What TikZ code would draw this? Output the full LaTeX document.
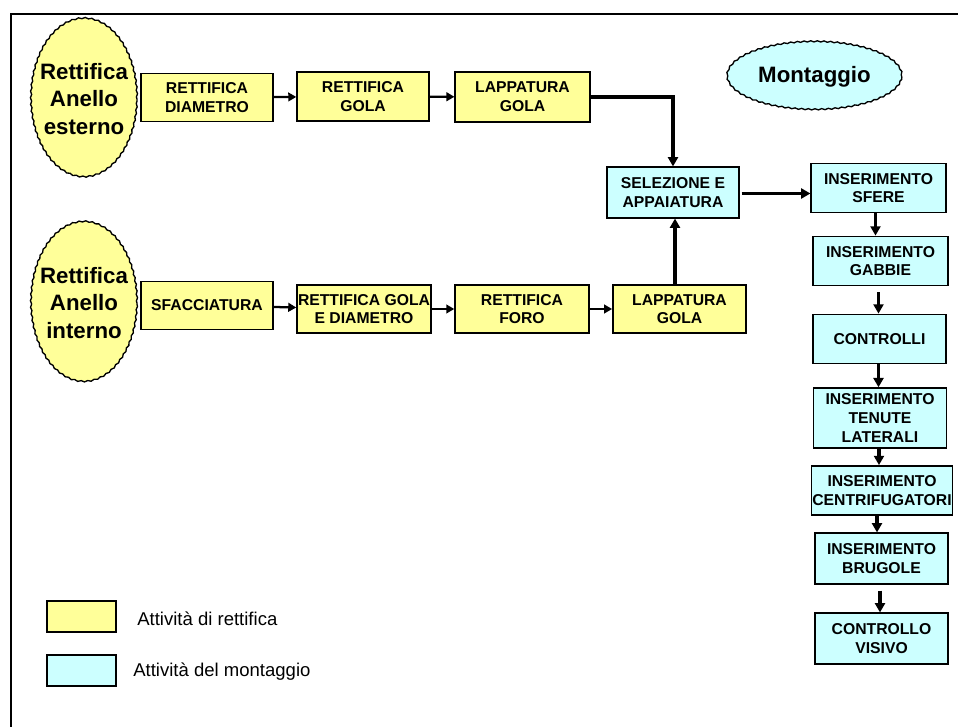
\documentclass[tikz,border=0pt]{standalone}
\usepackage{fontspec}
\setmainfont{Liberation Sans}
\usetikzlibrary{shapes.geometric,arrows.meta,decorations.pathmorphing}
\definecolor{giallo}{HTML}{FFFF99}
\definecolor{azzurro}{HTML}{CCFFFF}
\begin{document}
\begin{tikzpicture}[x=0.75pt,y=-0.75pt,
    fase/.style={draw,line width=1.1pt,inner sep=0pt,align=center,
        font=\bfseries\fontsize{11.8}{14}\selectfont},
    retbox/.style={fase,fill=giallo,minimum width=99pt,minimum height=36pt},
    monbox/.style={fase,fill=azzurro,minimum width=100pt,minimum height=37pt},
    anello/.style={ellipse,draw,fill=giallo,line width=1pt,inner sep=0pt,
        minimum width=79.5pt,minimum height=119pt,
        decorate,decoration={snake,amplitude=.45pt,segment length=5pt}},
    testoanello/.style={inner sep=0pt,align=center,
        font=\bfseries\fontsize{16.7}{20.5}\selectfont},
    freccia/.style={line width=1.7pt,-{Triangle[length=6pt,width=6.5pt]}},
    grossa/.style={line width=2.3pt,-{Triangle[length=7pt,width=7.5pt]}}]
    \useasboundingbox (0,0) rectangle (958,727);
    \draw[line width=1.5pt] (958,14) -- (11,14) -- (11,727);

    % anelli
    \node[anello,label={[testoanello]center:Rettifica\\Anello\\esterno}] (est) at (84,99) {};
    \node[anello,minimum height=120pt,label={[testoanello]center:Rettifica\\Anello\\interno}] (int) at (84,303) {};
    \node[anello,fill=azzurro,minimum width=131pt,minimum height=51pt,
        label={[testoanello]center:Montaggio}] (mon) at (814.5,77) {};

    % anello esterno
    \node[retbox] (diam) at (207,97.5) {RETTIFICA\\DIAMETRO};
    \node[retbox,minimum height=37pt] (gola) at (363,96.5) {RETTIFICA\\GOLA};
    \node[retbox,minimum width=101pt,minimum height=37.5pt] (lapA) at (522.5,97) {LAPPATURA\\GOLA};

    % anello interno
    \node[retbox] (sfac) at (207,305.5) {SFACCIATURA};
    \node[retbox,minimum width=100.5pt] (golad) at (364,309) {RETTIFICA GOLA\\E DIAMETRO};
    \node[retbox,minimum width=100.5pt] (foro) at (522,309) {RETTIFICA\\FORO};
    \node[retbox,minimum width=100pt] (lapB) at (679.5,309) {LAPPATURA\\GOLA};

    % montaggio
    \node[monbox,minimum width=99pt,minimum height=38pt] (sel) at (673,192.5) {SELEZIONE E\\APPAIATURA};
    \node[monbox,minimum width=101pt] (sfere) at (878.5,188) {INSERIMENTO\\SFERE};
    \node[monbox,minimum width=101pt] (gabb) at (880.5,261) {INSERIMENTO\\GABBIE};
    \node[monbox] (contr) at (879.5,339) {CONTROLLI};
    \node[monbox,minimum height=45pt] (tenu) at (880,418) {INSERIMENTO\\TENUTE\\LATERALI};
    \node[monbox,minimum width=106pt] (centr) at (882,490.5) {INSERIMENTO\\CENTRIFUGATORI};
    \node[monbox,minimum height=38pt] (brug) at (881.5,558.5) {INSERIMENTO\\BRUGOLE};
    \node[monbox,minimum height=38pt] (visi) at (881.5,638.5) {CONTROLLO\\VISIVO};

    \draw[freccia] (diam) -- (gola);
    \draw[freccia] (gola) -- (lapA);
    \draw[grossa] (lapA.east) -| (sel.north);
    \draw[freccia] (sfac) -- (golad);
    \draw[freccia] (golad) -- (foro);
    \draw[freccia] (foro) -- (lapB);
    \draw[grossa] (lapB.north -| sel.south) ++(2,0) coordinate (l1) -- (l1 |- sel.south);
    \draw[grossa] (sel.east) ++(2,1) coordinate (s1) -- (s1 -| sfere.west);

    \draw[grossa] (sfere.south -| gabb.north) ++(-5,0) coordinate (f1) -- (f1 |- gabb.north);
    \draw[grossa,shorten <=4.5pt] (gabb.south) ++(-2,0) coordinate (g1) -- (g1 |- contr.north);
    \draw[grossa] (contr.south) ++(-1,0) coordinate (c1) -- (c1 |- tenu.north);
    \draw[grossa] (tenu.south) ++(-1,0) coordinate (t1) -- (t1 |- centr.north);
    \draw[grossa] (centr.south) ++(-5,0) coordinate (k1) -- (k1 |- brug.north);
    \draw[grossa,shorten <=4.5pt] (brug.south) ++(-1.5,0) coordinate (b1) -- (b1 |- visi.north);

    % legenda
    \node[draw,line width=1.1pt,fill=giallo,minimum width=52pt,minimum height=23pt] (leg1) at (81.5,616.5) {};
    \node[draw,line width=1.1pt,fill=azzurro,minimum width=52pt,minimum height=23pt] (leg2) at (81.5,670.5) {};
    \node[anchor=west,inner sep=0pt,font=\fontsize{13.9}{16}\selectfont] (txt1) at (137,619) {Attività di rettifica};
    \node[anchor=west,inner sep=0pt,font=\fontsize{13.9}{16}\selectfont] (txt2) at (133,672) {Attività del montaggio};
\end{tikzpicture}
\end{document}
